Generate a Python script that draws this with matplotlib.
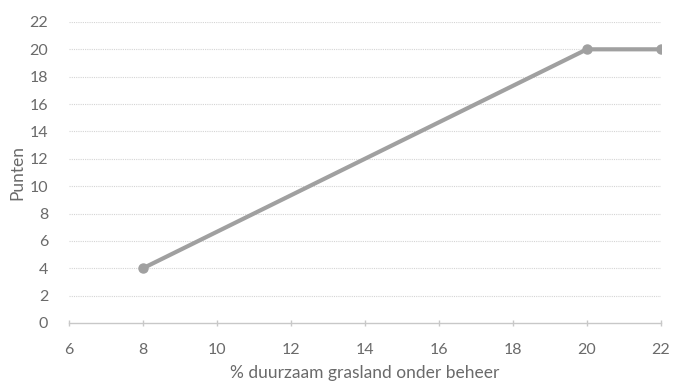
import matplotlib
matplotlib.use("Agg")
import matplotlib.pyplot as plt

x_vals = [8, 20, 22]
y_vals = [4, 20, 20]
x_ticks = [6, 8, 10, 12, 14, 16, 18, 20, 22]
y_ticks = [0, 2, 4, 6, 8, 10, 12, 14, 16, 18, 20, 22]

plt.rcParams['font.family'] = ['Lato', 'DejaVu Sans']

fig = plt.figure(figsize=(6.73, 3.83), dpi=100)
ax = fig.add_axes([0.1025, 0.1567, 0.8795, 0.786])

for yv in y_ticks[1:]:
    ax.axhline(yv, color='#d4d4d4', lw=0.8, ls=(0, (1, 1)), zorder=0)

ax.plot(x_vals, y_vals, color='#a0a0a0', lw=3, marker='o', ms=6.5,
        solid_capstyle='round', zorder=3)

ax.set_xlim(6, 22)
ax.set_ylim(0, 22)
ax.set_xticks(x_ticks)
ax.set_yticks(y_ticks)
for s in ['top', 'right', 'left']:
    ax.spines[s].set_visible(False)
ax.spines['bottom'].set_color('#c8c8c8')
ax.spines['bottom'].set_linewidth(1)
ax.tick_params(axis='x', colors='#c8c8c8', direction='inout', length=5, width=1,
               labelcolor='#6a6a6a', labelsize=11.5, pad=12)
ax.tick_params(axis='y', length=0, labelcolor='#6a6a6a', labelsize=11.5, pad=15)
ax.set_xlabel('% duurzaam grasland onder beheer', fontsize=12.5, color='#6a6a6a', labelpad=6)
ax.set_ylabel('Punten', fontsize=12.5, color='#6a6a6a', labelpad=3)

fig.savefig('out.png', dpi=100)
